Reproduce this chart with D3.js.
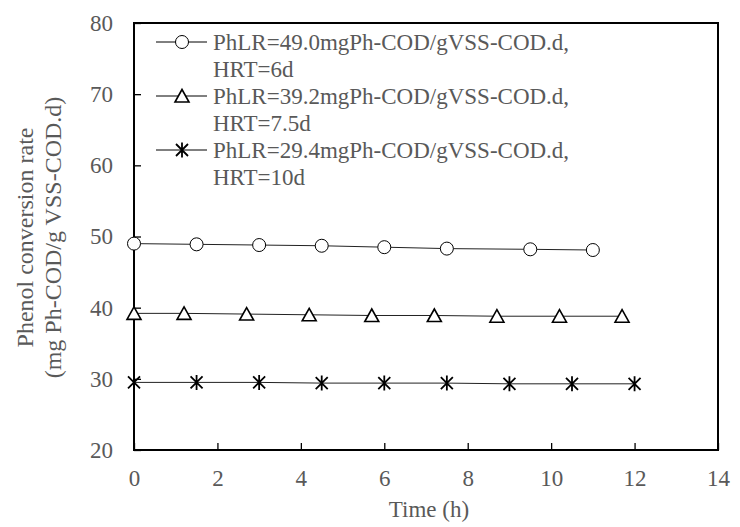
<!DOCTYPE html>
<html>
<head>
<meta charset="utf-8">
<script src="https://cdn.jsdelivr.net/npm/d3@7.9.0/dist/d3.min.js"></script>
<style>
  html, body { margin: 0; padding: 0; background: #fff; }
  svg text { font-family: "Liberation Serif", "Times New Roman", serif; fill: #595959; }
</style>
</head>
<body>
<svg id="chart" width="740" height="527"></svg>
<script>
// data
const circleX = [0, 1.5, 3, 4.5, 6, 7.5, 9.5, 11];
const circleY = [49.0, 48.9, 48.8, 48.7, 48.5, 48.3, 48.2, 48.1];

const triangleX = [0, 1.2, 2.7, 4.2, 5.7, 7.2, 8.7, 10.2, 11.7];
const triangleY = [39.2, 39.2, 39.1, 39.0, 38.9, 38.9, 38.8, 38.8, 38.8];

const starX = [0, 1.5, 3, 4.5, 6, 7.5, 9, 10.5, 12];
const starY = [29.5, 29.5, 29.5, 29.4, 29.4, 29.4, 29.3, 29.3, 29.3];

const seriesNames = [
  ["PhLR=49.0mgPh-COD/gVSS-COD.d,", "HRT=6d"],
  ["PhLR=39.2mgPh-COD/gVSS-COD.d,", "HRT=7.5d"],
  ["PhLR=29.4mgPh-COD/gVSS-COD.d,", "HRT=10d"]
];
const xTicks = [0, 2, 4, 6, 8, 10, 12, 14];
const yTicks = [20, 30, 40, 50, 60, 70, 80];

const svg = d3.select("#chart");
const margin = { top: 23, right: 22, bottom: 77, left: 134 };
const width = 740 - margin.left - margin.right;
const height = 527 - margin.top - margin.bottom;
const fontSize = "23px";

const g = svg.append("g")
  .attr("transform", `translate(${margin.left},${margin.top})`);

const x = d3.scaleLinear().domain([0, 14]).range([0, width]);
const y = d3.scaleLinear().domain([20, 80]).range([height, 0]);

// inward ticks
const xAxis = g.append("g")
  .attr("transform", `translate(0,${height})`)
  .call(d3.axisBottom(x).tickValues(xTicks).tickSize(-7).tickPadding(20));
const yAxis = g.append("g")
  .call(d3.axisLeft(y).tickValues(yTicks).tickSize(-7).tickPadding(21));

[xAxis, yAxis].forEach(ax => {
  ax.select(".domain").remove();
  ax.selectAll(".tick line").attr("stroke", "#000").attr("stroke-width", 1.3);
  ax.selectAll("text").style("font-size", fontSize).attr("fill", "#595959");
});

// frame
g.append("rect")
  .attr("width", width).attr("height", height)
  .attr("fill", "none").attr("stroke", "#000").attr("stroke-width", 2);

const line = d3.line().x(d => x(d[0])).y(d => y(d[1]));

const series = [
  { xs: circleX, ys: circleY, marker: "circle" },
  { xs: triangleX, ys: triangleY, marker: "triangle" },
  { xs: starX, ys: starY, marker: "star" }
];

function drawMarker(sel, type) {
  if (type === "circle") {
    sel.append("circle").attr("r", 6.5)
      .attr("fill", "#fff").attr("stroke", "#000").attr("stroke-width", 1);
  } else if (type === "triangle") {
    sel.append("path").attr("d", "M0,-6.5L7,6L-7,6Z")
      .attr("fill", "#fff").attr("stroke", "#000").attr("stroke-width", 1.6);
  } else {
    sel.append("path").attr("d", "M-6,-6L6,6M-6,6L6,-6M0,-7.5L0,7.5")
      .attr("fill", "none").attr("stroke", "#000").attr("stroke-width", 1.8);
  }
}

series.forEach(s => {
  const pts = s.xs.map((v, i) => [v, s.ys[i]]);
  g.append("path").datum(pts)
    .attr("fill", "none").attr("stroke", "#222").attr("stroke-width", 1)
    .attr("d", line);
  g.selectAll(null).data(pts).enter().append("g")
    .attr("transform", d => `translate(${x(d[0])},${y(d[1])})`)
    .each(function() { drawMarker(d3.select(this), s.marker); });
});

// legend
const legend = svg.append("g").attr("transform", "translate(156,42)");
series.forEach((s, i) => {
  const row = legend.append("g").attr("transform", `translate(0,${i * 54})`);
  row.append("line").attr("x1", 0).attr("x2", 51)
    .attr("stroke", "#000").attr("stroke-width", 1);
  const m = row.append("g").attr("transform", "translate(26,0)");
  drawMarker(m, s.marker);
  seriesNames[i].forEach((t, j) => {
    row.append("text").attr("x", 57).attr("y", j * 26.5)
      .attr("dy", "0.35em").style("font-size", fontSize).text(t);
  });
});

// axis titles
svg.append("text")
  .attr("x", margin.left + width / 2 + 3).attr("y", 517)
  .attr("text-anchor", "middle").style("font-size", fontSize).text("Time (h)");

const yTitle = svg.append("text")
  .attr("transform", `translate(33,${margin.top + height / 2 + 1}) rotate(-90)`)
  .attr("text-anchor", "middle").style("font-size", "24px");
yTitle.append("tspan").attr("x", 0).attr("dy", 0).text("Phenol conversion rate");
yTitle.append("tspan").attr("x", 0).attr("dy", 28).text("(mg Ph-COD/g VSS-COD.d)");
</script>
</body>
</html>
